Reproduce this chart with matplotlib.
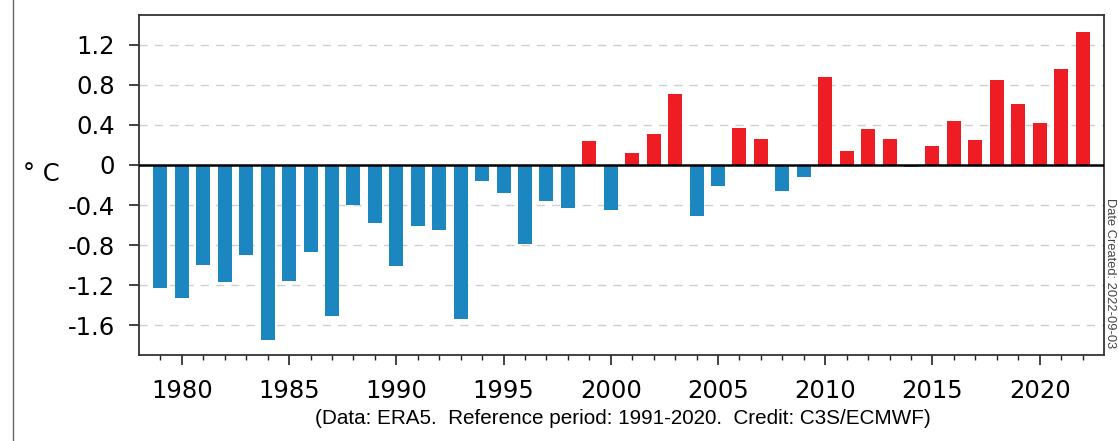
import matplotlib
matplotlib.use("Agg")
import matplotlib.pyplot as plt
import numpy as np

plt.rcParams['axes.unicode_minus'] = False

# Annual surface air temperature anomalies (deg C), ERA5, relative to 1991-2020
years = np.arange(1979, 2023)
anomalies = [
	-1.23, -1.33, -1.00, -1.17, -0.90, -1.75, -1.16, -0.87, -1.51, -0.40,
	-0.58, -1.01, -0.61, -0.65, -1.54, -0.16, -0.28, -0.79, -0.36, -0.43,
	0.24, -0.45, 0.12, 0.31, 0.71, -0.51, -0.21, 0.37, 0.26, -0.26,
	-0.12, 0.88, 0.14, 0.36, 0.26, -0.02, 0.19, 0.44, 0.25, 0.85,
	0.61, 0.42, 0.96, 1.33,
]
yticks = [-1.6, -1.2, -0.8, -0.4, 0, 0.4, 0.8, 1.2]
ytick_labels = ["-1.6", "-1.2", "-0.8", "-0.4", "0", "0.4", "0.8", "1.2"]
xticks = [1980, 1985, 1990, 1995, 2000, 2005, 2010, 2015, 2020]

blue = '#1c86c1'
red = '#ee1d23'

fig = plt.figure(figsize=(11.18, 4.41), dpi=100)
ax = fig.add_axes([0.1243, 0.195, 0.8632, 0.771])

colors = [red if v > 0 else blue for v in anomalies]
ax.bar(years, anomalies, width=0.65, color=colors, zorder=3)

# dashed grid and the zero line
for t in yticks:
	if t != 0:
		ax.axhline(t, color='#cfcfcf', lw=1.0, ls=(0, (6, 5)), zorder=1)
ax.axhline(0, color='black', lw=1.8, zorder=4)

ax.set_xlim(1978, 2023)
ax.set_ylim(-1.9, 1.5)

ax.set_yticks(yticks)
ax.set_yticklabels(ytick_labels)
ax.set_xticks(xticks)
ax.set_xticks(years, minor=True)
ax.tick_params(axis='both', which='major', labelsize=17.5, length=7.5, width=1.2,
	pad=10, direction='out', colors='#222222', labelcolor='black')
ax.tick_params(axis='x', which='minor', length=3.8, width=1.0, direction='out', colors='#222222')
ax.tick_params(axis='y', which='minor', left=False)

for s in ax.spines.values():
	s.set_linewidth(1.3)
	s.set_color('#333333')

fig.text(0.037, 0.605, "° C", fontsize=17.5, ha='center', va='center')

fig.text(0.557, 0.05, "(Data: ERA5.  Reference period: 1991-2020.  Credit: C3S/ECMWF)",
	fontsize=14.9, family='Liberation Sans', ha='center', va='center')

fig.text(0.9985, 0.551, "Date Created: 2022-09-03", fontsize=9.3, family='Liberation Sans',
	rotation=270, ha='right', va='top', color='#444444')

# thin frame line on the left edge
fig.add_artist(plt.Line2D([0.012, 0.012], [0, 1], transform=fig.transFigure,
	color='#666666', lw=1.0))

fig.savefig("out.png", dpi=100)
